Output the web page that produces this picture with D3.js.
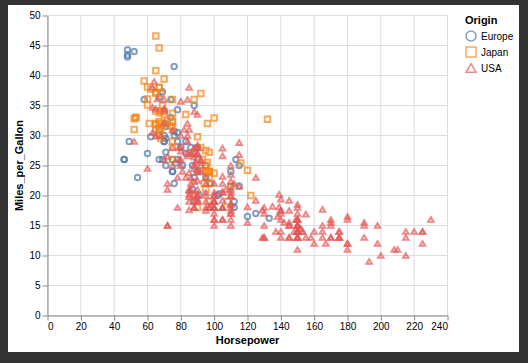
<!DOCTYPE html>
<html>
<head>
<meta charset="utf-8">
<script src="https://cdn.jsdelivr.net/npm/d3@7"></script>
<style>
  html, body { margin: 0; padding: 0; background: #333; }
  svg { display: block; font-family: "Liberation Sans", Arial, Helvetica, sans-serif; }
</style>
</head>
<body>
<svg id="chart" width="528" height="363"></svg>
<script>
// categories + ticks
const origins = ["Europe", "Japan", "USA"];
const xTicks = [0, 20, 40, 60, 80, 100, 120, 140, 160, 180, 200, 220, 240];
const yTicks = [0, 5, 10, 15, 20, 25, 30, 35, 40, 45, 50];

// [Horsepower, Miles_per_Gallon]
const europe = [
  [46,26],[87,25],[90,24],[95,25],[113,26],
  [90,28],[70,30],[76,30],[60,27],[54,23],
  [112,18],[76,22],[87,21],[69,26],[46,26],[90,26],[49,29],[75,24],[91,20],[112,19],[110,24],
  [83,29],[67,26],[78,26],[75,24],[75,26],[67,31],
  [71,25],[70,29],[95,23],[88,23],[98,22],[115,25],
  [86,28],[81,25],[83,27],[70,29],[71,29.5],[102,20],[88,19],[120,16.5],
  [58,36],[78,29],[78,30.5],[110,21.5],[48,43.1],
  [103,20.3],[125,17],[115,21.6],[133,16.2],[71,31.5],
  [71,31.9],[77,25.4],[71,27.2],[69,37.3],
  [76,41.5],[78,34.3],[48,44.3],[48,43.4],[67,36.4],[67,30],[62,29.8],[88,35],
  [74,33],[80,28.1],[76,30.7],
  [74,36],[52,44]
];

const japan = [
  [95,24],[88,27],[88,27],[95,25],[65,31],[69,35],[95,24],
  [97,19],[92,28],[97,23],[88,27],[88,20],[94,22],[90,18],[122,20],
  [67,31],[65,32],[52,31],[61,32],[97,24],[93,26],
  [75,29],[96,24],[97,24],[53,33],
  [53,33],[70,32],[75,28],[108,19],
  [68,31.5],[96,25.5],[70,33.5],[75,26],[83,33.5],[67,30],[97,22],[110,21.5],[52,32.8],[70,39.4],[60,36.1],
  [95,27.5],[97,27.2],[95,21.1],[97,23.9],[65,34.1],[68,29.5],
  [65,31.8],
  [60,38.1],[65,37.2],[90,29.8],[75,31.3],[92,37],[75,32.2],[65,46.6],[65,40.8],[67,44.6],[67,33.8],[132,32.7],[100,23.7],[72,32.4],
  [58,39.1],[60,35.1],[67,32.3],[65,37],[62,37.7],[68,34.1],[75,33.7],[75,32.4],[100,32.9],[74,31.6],[116,25.4],[120,24.2],
  [68,37],[68,31],[88,36],[75,36],[70,34],[67,38],[67,32],[67,38],[96,32]
];

const usa = [
  [130,18],[165,15],[150,18],[150,16],[140,17],[198,15],[220,14],[215,14],[225,14],[190,15],[170,15],[160,14],[150,15],[225,14],[95,22],[97,18],[85,21],[90,21],[215,10],[200,10],[210,11],[193,9],
  [90,28],[100,19],[105,16],[100,17],[88,19],[100,18],[165,14],[175,14],[153,14],[150,14],[180,12],[170,13],[175,13],[110,18],[72,22],[100,19],[88,18],[86,23],[70,26],
  [80,25],[90,20],[86,21],[165,13],[175,14],[150,15],[153,14],[150,17],[208,11],[155,13],[160,12],[190,13],[150,15],[130,13],[140,13],[150,14],[86,22],[80,28],
  [175,13],[150,14],[145,13],[137,14],[150,15],[198,12],[150,13],[158,13],[150,14],[215,13],[225,12],[175,13],[105,18],[100,16],[100,18],[88,18],[95,23],[150,11],[167,12],[170,13],[180,12],[100,18],[72,21],[85,19],[107,21],[145,15],[230,16],[150,15],[180,11],
  [95,20],[100,19],[100,15],[80,26],[75,25],[100,16],[110,16],[105,18],[140,16],[150,13],[150,14],[140,14],[150,14],[75,28],
  [95,19],[105,18],[72,15],[72,15],[170,16],[145,15],[150,16],[148,14],[110,17],[105,16],[110,15],[95,18],[110,21],[110,20],[129,13],[83,23],[100,20],[78,23],[97,18],[90,19],
  [92,25],[79,26],[140,17.5],[150,16],[120,15.5],[152,14.5],[100,22],[105,22],[81,24],[90,22.5],[52,29],[60,24.5],[100,20],[78,18],[110,18.5],[95,17.5],[72,26.5],[150,13],[180,16.5],[145,13],[130,13],[150,13],
  [80,30],[145,17.5],[110,17],[145,15.5],[130,15],[110,17.5],[105,20.5],[100,19],[98,18.5],[180,16],[170,15.5],[190,15.5],[149,16],[88,24.5],[89,25.5],[63,30.5],
  [66,36.1],[110,19.9],[140,19.4],[139,20.2],[105,19.2],[95,20.5],[85,20.2],[88,25.1],[100,20.5],[90,19.4],[105,20.6],[85,20.8],[110,18.6],[120,18.1],[145,19.2],[165,17.7],[139,18.1],[140,17.5],[68,30],[75,30.9],[105,23.2],[85,23.8],
  [115,21.5],[85,19.8],[88,22.3],[90,20.2],[110,20.6],[130,17],[129,17.6],[138,16.5],[135,18.2],[155,16.9],[142,15.5],[125,19.2],[150,18.5],[80,35.7],[80,27.4],[125,23],[90,23.9],[70,34.2],[70,34.5],[90,28.4],[115,28.8],[115,26.8],[90,33.5],
  [70,32.1],[90,28],[88,26.4],[90,24.3],[90,19.1],[105,27.9],
  [84,27.2],[84,26.6],[92,25.8],[110,23.5],[84,30],[64,39],[63,34.7],[65,34.4],[65,29.9],[110,22.4],[105,26.6],[88,20.2],[85,17.6],
  [88,28],[88,27],[88,34],[85,31],[84,29],[90,27],[92,24],[63,38],[70,36],[110,25],[85,38],[92,26],[112,22],[84,36],[90,27],[86,27],[84,32],[79,28],[82,31]
];

const series = [europe, japan, usa];
const colors = ["#4c78a8", "#f58518", "#e45756"];

// vega-style symbols (size = area of bounding square)
const circle = { draw(ctx, size) { const r = Math.sqrt(size) / 2; ctx.moveTo(r, 0); ctx.arc(0, 0, r, 0, 2 * Math.PI); } };
const square = { draw(ctx, size) { const r = Math.sqrt(size) / 2; ctx.rect(-r, -r, 2 * r, 2 * r); } };
const triangle = { draw(ctx, size) {
  const r = Math.sqrt(size) / 2, h = Math.sqrt(3) / 2 * r;
  ctx.moveTo(0, -h); ctx.lineTo(-r, h); ctx.lineTo(r, h); ctx.closePath();
} };
const shapes = [circle, square, triangle];

const width = 400, height = 300;
const svg = d3.select("#chart");

svg.append("rect").attr("x", 8).attr("y", 5).attr("width", 511).attr("height", 347).attr("fill", "#fff");

const g = svg.append("g").attr("transform", "translate(47.5,15.5)");

const x = d3.scaleLinear().domain([0, 240]).range([0, width]);
const y = d3.scaleLinear().domain([0, 50]).range([height, 0]);

// grid
g.append("g").selectAll("line").data(xTicks).join("line")
  .attr("x1", d => x(d)).attr("x2", d => x(d)).attr("y1", 0).attr("y2", height)
  .attr("stroke", "#ddd");
g.append("g").selectAll("line").data(yTicks).join("line")
  .attr("y1", d => y(d)).attr("y2", d => y(d)).attr("x1", 0).attr("x2", width)
  .attr("stroke", "#ddd");

// axes
const xAxis = g.append("g").attr("transform", `translate(0,${height})`)
  .call(d3.axisBottom(x).tickValues(xTicks).tickSize(5).tickSizeOuter(0).tickPadding(2));
const yAxis = g.append("g")
  .call(d3.axisLeft(y).tickValues(yTicks).tickSize(5).tickSizeOuter(0).tickPadding(2));

[xAxis, yAxis].forEach(a => {
  a.select(".domain").attr("stroke", "#888");
  a.selectAll(".tick line").attr("stroke", "#888");
  a.selectAll(".tick text").attr("fill", "#000").style("font-size", "10px")
    .style("font-family", "'Liberation Sans', Arial, sans-serif");
});
xAxis.selectAll(".tick text").filter((d, i) => i === 0).attr("text-anchor", "start");
xAxis.selectAll(".tick text").filter(d => d === 240).attr("text-anchor", "end");

g.append("text").attr("x", width / 2).attr("y", 328)
  .attr("text-anchor", "middle").style("font-size", "11px").style("font-weight", "bold")
  .text("Horsepower");
g.append("text").attr("transform", `translate(-24.5,${height / 2}) rotate(-90)`)
  .attr("text-anchor", "middle").style("font-size", "11px").style("font-weight", "bold")
  .text("Miles_per_Gallon");

// points
series.forEach((data, i) => {
  g.append("g").selectAll("path").data(data).join("path")
    .attr("transform", d => `translate(${x(d[0])},${y(d[1])})`)
    .attr("d", d3.symbol(shapes[i], 30))
    .attr("fill", "none")
    .attr("stroke", colors[i])
    .attr("stroke-width", 2)
    .attr("opacity", 0.7);
});

// legend
const legend = svg.append("g").attr("transform", "translate(465,0)");
legend.append("text").attr("x", 0).attr("y", 24)
  .style("font-size", "11px").style("font-weight", "bold").text("Origin");
origins.forEach((name, i) => {
  const row = legend.append("g").attr("transform", `translate(0,${36 + i * 16})`);
  row.append("path").attr("transform", "translate(6,0)")
    .attr("d", d3.symbol(shapes[i], 100))
    .attr("fill", "none").attr("stroke", colors[i]).attr("stroke-width", 1.5).attr("opacity", 0.7);
  row.append("text").attr("x", 16).attr("y", 3.5).style("font-size", "10px").text(name);
});
</script>
</body>
</html>
